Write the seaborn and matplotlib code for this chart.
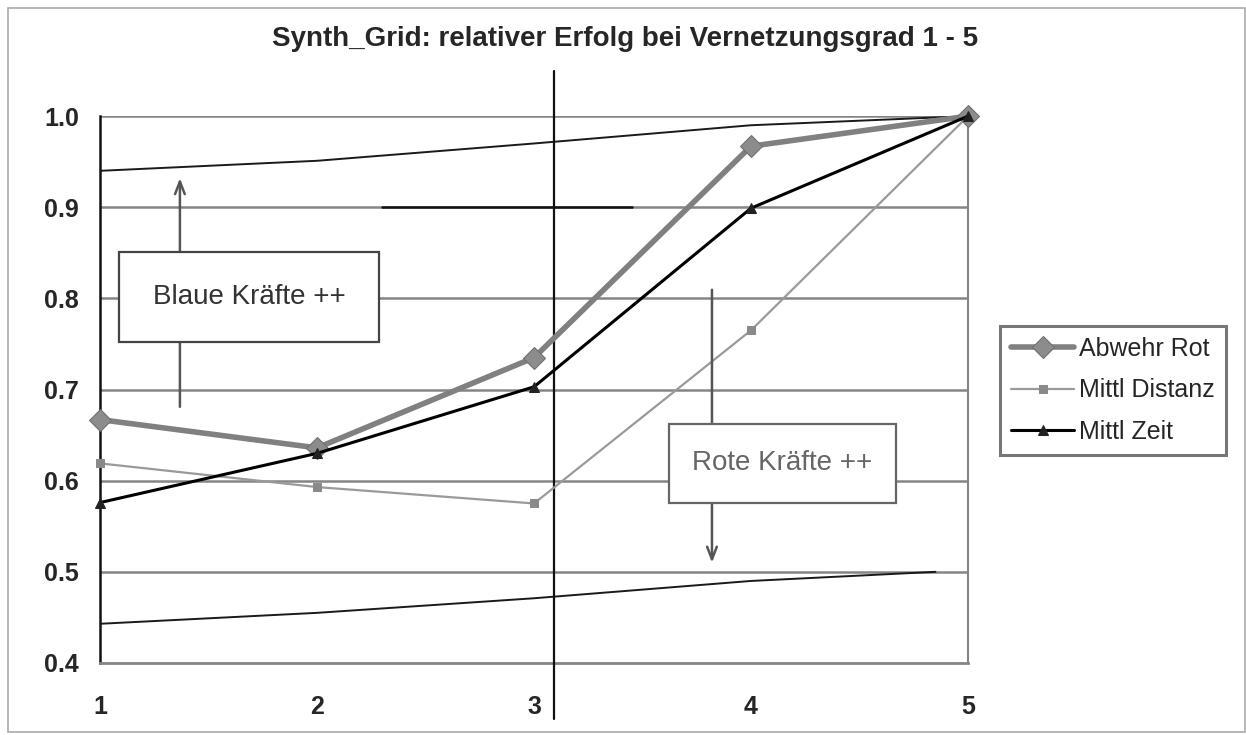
import numpy as np
import pandas as pd
import matplotlib
matplotlib.use('Agg')
import matplotlib.pyplot as plt
import seaborn as sns
from matplotlib.patches import Rectangle

sns.set_style('white')
plt.rcParams['font.family'] = ['Liberation Sans', 'DejaVu Sans']

grad = [1, 2, 3, 4, 5]
abwehr_rot = [0.667, 0.636, 0.735, 0.967, 1.0]
mittl_distanz = [0.619, 0.593, 0.575, 0.765, 1.0]
mittl_zeit = [0.576, 0.630, 0.703, 0.899, 1.0]

upper_x = [1, 2, 3, 4, 5]
upper_y = [0.940, 0.951, 0.970, 0.990, 1.0]
lower_x = [1, 2, 3, 4, 4.85]
lower_y = [0.443, 0.455, 0.471, 0.490, 0.500]

y_ticks = [0.4, 0.5, 0.6, 0.7, 0.8, 0.9, 1.0]
title = 'Synth_Grid: relativer Erfolg bei Vernetzungsgrad 1 - 5'

df = pd.DataFrame({'grad': grad, 'Abwehr Rot': abwehr_rot,
                   'Mittl Distanz': mittl_distanz, 'Mittl Zeit': mittl_zeit})

fig = plt.figure(figsize=(12.46, 7.35), dpi=100)
ax = fig.add_axes([0.0803, 0.098, 0.6966, 0.744])

# horizontal grid
for yv in y_ticks[1:]:
    ax.axhline(yv, color='#858585', lw=1.8, zorder=1)

# envelope curves
sns.lineplot(x=upper_x, y=upper_y, color='#1a1a1a', lw=1.4, ax=ax, zorder=2)
sns.lineplot(x=lower_x, y=lower_y, color='#1a1a1a', lw=1.4, ax=ax, zorder=2)

# series
sns.lineplot(data=df, x='grad', y='Abwehr Rot', color='#808080', lw=4, marker='D',
             markersize=11, markerfacecolor='#8c8c8c', markeredgecolor='#6e6e6e',
             label='Abwehr Rot', ax=ax, zorder=5, clip_on=False)
sns.lineplot(data=df, x='grad', y='Mittl Distanz', color='#9a9a9a', lw=1.6, marker='s',
             markersize=6, markerfacecolor='#8a8a8a', markeredgecolor='#8a8a8a',
             label='Mittl Distanz', ax=ax, zorder=4, clip_on=False)
sns.lineplot(data=df, x='grad', y='Mittl Zeit', color='#000000', lw=2.2, marker='^',
             markersize=7, markerfacecolor='#222222', markeredgecolor='#222222',
             label='Mittl Zeit', ax=ax, zorder=6, clip_on=False)

# vertical separator and short black mark on 0.9
ax.plot([3.09, 3.09], [1.05, 0.338], color='#111111', lw=1.6, clip_on=False, zorder=3)
ax.plot([2.3, 3.45], [0.9, 0.9], color='#111111', lw=1.8, zorder=2)

# arrows
ax.annotate('', xy=(1.368, 0.935), xytext=(1.368, 0.678),
            arrowprops=dict(arrowstyle='->,head_length=0.9,head_width=0.35', color='#555555', lw=1.8),
            zorder=7)
ax.annotate('', xy=(3.82, 0.507), xytext=(3.82, 0.8125),
            arrowprops=dict(arrowstyle='->,head_length=0.9,head_width=0.35', color='#555555', lw=1.8),
            zorder=7)

# boxes
ax.add_patch(Rectangle((1.087, 0.752), 1.2, 0.099, facecolor='white', edgecolor='#444444',
                       lw=1.6, zorder=8))
ax.text(1.687, 0.8015, 'Blaue Kräfte ++', ha='center', va='center', fontsize=20,
        color='#333333', zorder=9)
ax.add_patch(Rectangle((3.62, 0.576), 1.05, 0.086, facecolor='white', edgecolor='#666666',
                       lw=1.6, zorder=8))
ax.text(4.145, 0.619, 'Rote Kräfte ++', ha='center', va='center', fontsize=20,
        color='#666666', zorder=9)

ax.set_xlim(1, 5)
ax.set_ylim(0.4, 1.0)
ax.set_xticks(grad)
ax.set_yticks(y_ticks)
ax.set_xticklabels([str(g) for g in grad], fontsize=18, fontweight='bold')
ax.set_yticklabels([f'{v:.1f}' for v in y_ticks], fontsize=18, fontweight='bold')
ax.tick_params(axis='x', length=5, width=1, color='#555555', direction='out', pad=18)
ax.tick_params(axis='y', length=5, width=1, color='#333333', direction='out', pad=10)
ax.set_xlabel('')
ax.set_ylabel('')

ax.spines['top'].set_visible(False)
ax.spines['left'].set_color('#111111')
ax.spines['left'].set_linewidth(1.8)
ax.spines['bottom'].set_color('#858585')
ax.spines['bottom'].set_linewidth(2)
ax.spines['right'].set_color('#858585')
ax.spines['right'].set_linewidth(1.5)

ax.get_legend().remove()
handles, labels = ax.get_legend_handles_labels()
leg = fig.legend(handles, labels, loc='center left', bbox_to_anchor=(0.8026, 0.469),
                 fontsize=18, frameon=True, fancybox=False, edgecolor='#555555',
                 handlelength=2.5, handletextpad=0.2, labelspacing=0.7, borderpad=0.45,
                 borderaxespad=0)
leg.get_frame().set_linewidth(2.2)

fig.text(0.502, 0.947, title, ha='center', va='center', fontsize=20, fontweight='bold')

fig.patches.append(Rectangle((0.0064, 0.004), 0.993, 0.985, transform=fig.transFigure,
                             fill=False, edgecolor='#aaaaaa', lw=1.2))

fig.savefig('out.png', dpi=100)
